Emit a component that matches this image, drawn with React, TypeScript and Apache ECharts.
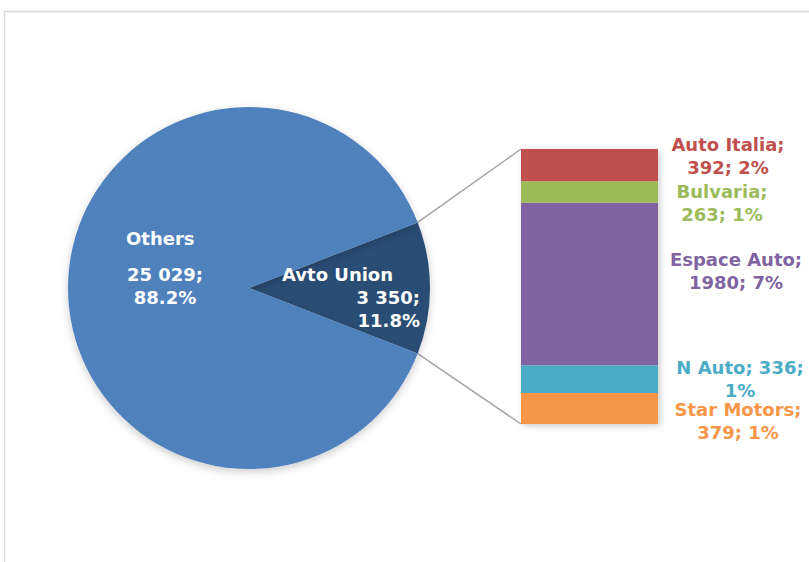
import React, { useEffect, useRef } from "react";
import * as echarts from "echarts";

// ---- data ----
const pieNames = ["Avto Union", "Others"];
const pieValues = [3350, 25029];
const pieColors = ["#2C4D75", "#4F81BD"];

const subNames = ["Auto Italia", "Bulvaria", "Espace Auto", "N Auto", "Star Motors"];
const subValues = [392, 263, 1980, 336, 379];
const subColors = ["#C0504D", "#9BBB59", "#8064A2", "#4BACC6", "#F79646"];
const subWrapAfterValue = [false, false, false, true, false];

// ---- layout ----
const PIE_CX = 249;
const PIE_CY = 288;
const PIE_R = 181;
const BAR_LEFT = 521;
const BAR_TOP = 149;
const BAR_W = 137;
const BAR_H = 275;
const labelDx = [70, 64, 78, 82, 80];
const labelDy = [-9, 11, -13.5, 0, 13];
const FONT = "'DejaVu Sans', Verdana, sans-serif";

function thousands(n: number): string {
  return String(n).replace(/\B(?=(\d{3})+(?!\d))/g, " ");
}

// Excel-style largest remainder rounding for whole-number percentages
function largestRemainder(values: number[]): number[] {
  const total = values.reduce((a, b) => a + b, 0);
  const raw = values.map((v) => (v / total) * 100);
  const floors = raw.map((r) => Math.floor(r));
  let left = 100 - floors.reduce((a, b) => a + b, 0);
  const order = raw
    .map((r, i) => ({ i, rem: r - Math.floor(r) }))
    .sort((a, b) => b.rem - a.rem);
  const out = floors.slice();
  for (let k = 0; k < order.length && left > 0; k++, left--) out[order[k].i] += 1;
  return out;
}

export default function App() {
  const ref = useRef<HTMLDivElement>(null);

  useEffect(() => {
    if (!ref.current) return;
    const chart = echarts.init(ref.current, undefined, { renderer: "svg" });

    const total = pieValues.reduce((a, b) => a + b, 0);
    const othersIdx = pieNames.indexOf("Others");
    const avtoIdx = pieNames.indexOf("Avto Union");
    const avto = pieValues[avtoIdx];
    const subTotal = subValues.reduce((a, b) => a + b, 0);
    const pctWhole = largestRemainder([pieValues[othersIdx], ...subValues]).slice(1);

    const halfAngle = (Math.PI * avto) / total; // half the Avto Union slice angle
    const startDeg = (halfAngle * 180) / Math.PI;

    const upper = [PIE_CX + PIE_R * Math.cos(halfAngle), PIE_CY - PIE_R * Math.sin(halfAngle)];
    const lower = [PIE_CX + PIE_R * Math.cos(halfAngle), PIE_CY + PIE_R * Math.sin(halfAngle)];

    const barSeries: any[] = [];
    for (let i = subNames.length - 1; i >= 0; i--) {
      const name = subNames[i];
      const v = subValues[i];
      const p = pctWhole[i];
      const text = subWrapAfterValue[i]
        ? `${name}; ${v};\n${p}%`
        : `${name};\n${v}; ${p}%`;
      barSeries.push({
        type: "bar",
        name,
        stack: "sub",
        barWidth: "100%",
        data: [v],
        itemStyle: { color: subColors[i] },
        emphasis: { disabled: true },
        label: {
          show: true,
          position: "right",
          distance: 0,
          align: "center",
          verticalAlign: "middle",
          offset: [labelDx[i], labelDy[i]],
          formatter: () => text,
          color: subColors[i],
          fontFamily: FONT,
          fontWeight: "bold",
          fontSize: 18,
          lineHeight: 23,
        },
      });
    }

    const option: any = {
      animation: false,
      backgroundColor: "#ffffff",
      grid: { left: BAR_LEFT, top: BAR_TOP, width: BAR_W, height: BAR_H },
      xAxis: { type: "category", data: ["sub"], show: false },
      yAxis: { type: "value", min: 0, max: subTotal, show: false },
      graphic: [
        {
          type: "rect",
          shape: { x: 4.5, y: 11.5, width: 1000, height: 1000 },
          style: { fill: "none", stroke: "#d9d9d9", lineWidth: 1.5 },
          silent: true,
          z: -10,
        },
        {
          type: "rect",
          shape: { x: BAR_LEFT, y: BAR_TOP, width: BAR_W, height: BAR_H },
          style: {
            fill: "#ffffff",
            shadowBlur: 6,
            shadowOffsetX: 2,
            shadowOffsetY: 2,
            shadowColor: "rgba(0,0,0,0.2)",
          },
          silent: true,
          z: 0,
        },
        {
          type: "line",
          shape: { x1: upper[0], y1: upper[1], x2: BAR_LEFT, y2: BAR_TOP },
          style: { stroke: "#a6a6a6", lineWidth: 1.5 },
          silent: true,
        },
        {
          type: "line",
          shape: { x1: lower[0], y1: lower[1], x2: BAR_LEFT, y2: BAR_TOP + BAR_H },
          style: { stroke: "#a6a6a6", lineWidth: 1.5 },
          silent: true,
        },
      ],
      series: [
        {
          type: "pie",
          center: [PIE_CX, PIE_CY],
          radius: PIE_R,
          startAngle: startDeg,
          clockwise: true,
          data: pieNames.map((n, i) => ({
            name: n,
            value: pieValues[i],
            itemStyle: { color: pieColors[i] },
          })),
          itemStyle: {
            borderWidth: 0,
            shadowBlur: 8,
            shadowOffsetY: 3,
            shadowColor: "rgba(0,0,0,0.2)",
          },
          emphasis: { disabled: true },
          labelLine: { show: false },
          label: {
            show: true,
            position: "inside",
            color: "#ffffff",
            fontFamily: FONT,
            fontWeight: "bold",
            fontSize: 18,
            formatter: (p: any) => {
              const pct = ((p.value / total) * 100).toFixed(1) + "%";
              if (p.name === "Others") {
                return `{n|${p.name}}\n{g|}\n{c|${thousands(p.value)};}\n{c|${pct}}`;
              }
              return `{n|${p.name}}\n{r|${thousands(p.value)};}\n{r|${pct}}`;
            },
            rich: {
              n: { color: "#fff", fontFamily: FONT, fontWeight: "bold", fontSize: 18, lineHeight: 23, align: "left" },
              c: { color: "#fff", fontFamily: FONT, fontWeight: "bold", fontSize: 18, lineHeight: 23, align: "center" },
              r: { color: "#fff", fontFamily: FONT, fontWeight: "bold", fontSize: 18, lineHeight: 23, align: "right" },
              g: { fontSize: 1, lineHeight: 13 },
            },
          },
          labelLayout: (params: any) => {
            if (params.dataIndex === othersIdx) {
              return { x: 126, y: 226.5, align: "left", verticalAlign: "top", width: 78 };
            }
            return { x: 282, y: 263, align: "left", verticalAlign: "top", width: 138 };
          },
        },
        ...barSeries,
      ],
    };

    chart.setOption(option);
    return () => chart.dispose();
  }, []);

  return (
    <div
      ref={ref}
      style={{ position: "fixed", left: 0, top: 0, width: 809, height: 562 }}
    />
  );
}
